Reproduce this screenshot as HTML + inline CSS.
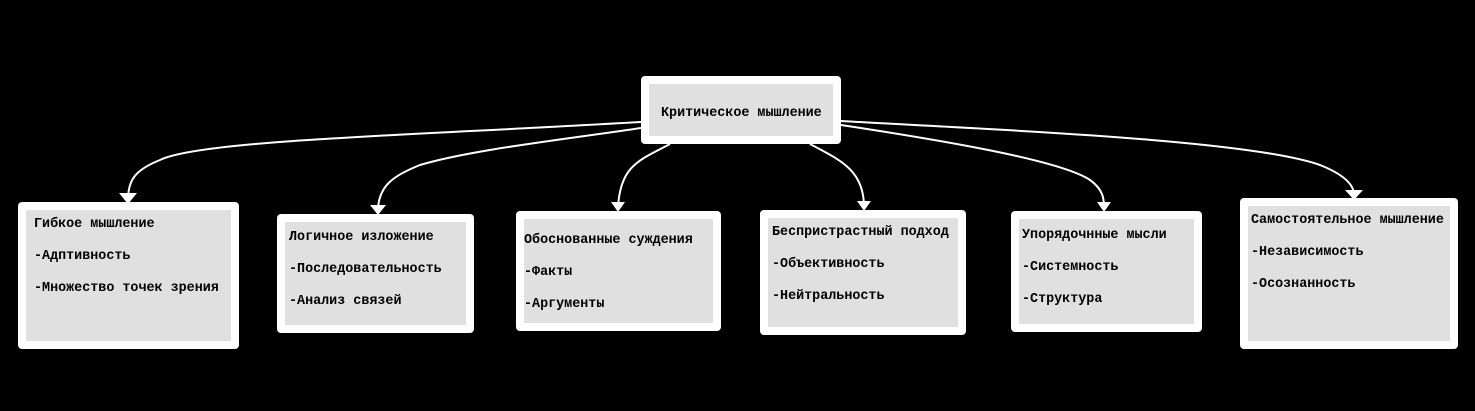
<!DOCTYPE html>
<html><head><meta charset="utf-8"><style>
html,body{margin:0;padding:0;background:#000;width:1475px;height:411px;overflow:hidden}
text{font-family:"Liberation Mono","DejaVu Sans Mono",monospace;font-weight:bold;font-size:13.4px;fill:#000}
</style></head><body>
<svg width="1475" height="411" xmlns="http://www.w3.org/2000/svg">
<g fill="none" stroke="#fff" stroke-width="2">
<path d="M641,122 C420,135 200,140 160,160 C135,170 128,180 128,200"/>
<path d="M641,128 C560,140 470,150 420,165 C395,175 378,185 378,211"/>
<path d="M670,144 C640,160 620,165 618,208"/>
<path d="M810,144 C840,160 864,170 864,207"/>
<path d="M841,125 C940,140 1060,160 1090,180 C1104,190 1104,200 1104,208"/>
<path d="M841,121 C1000,130 1250,140 1320,165 C1345,175 1354,185 1354,195"/>
</g>
<g fill="#fff">
<path d="M119,193 L137,193 L128,204 Z"/>
<path d="M370,205 L386,205 L378,215 Z"/>
<path d="M611,202 L625,202 L618,212 Z"/>
<path d="M857,201 L871,201 L864,211 Z"/>
<path d="M1097,202 L1111,202 L1104,212 Z"/>
<path d="M1345,190 L1363,190 L1354,200 Z"/>
</g>
<g fill="#fff">
<rect x="641" y="76" width="200" height="68" rx="4"/>
<rect x="18" y="202" width="221" height="147" rx="4"/>
<rect x="277" y="214" width="197" height="119" rx="4"/>
<rect x="516" y="211" width="205" height="120" rx="4"/>
<rect x="760" y="210" width="206" height="125" rx="4"/>
<rect x="1011" y="211" width="191" height="121" rx="4"/>
<rect x="1240" y="198" width="218" height="151" rx="4"/>
</g>
<g fill="#e0e0e0">
<rect x="649" y="84" width="184" height="52"/>
<rect x="26" y="210" width="205" height="131"/>
<rect x="285" y="222" width="181" height="103"/>
<rect x="524" y="219" width="189" height="104"/>
<rect x="768" y="218" width="190" height="109"/>
<rect x="1019" y="219" width="175" height="105"/>
<rect x="1248" y="206" width="202" height="135"/>
</g>
<text x="661" y="116">Критическое мышление</text>
<text x="34" y="227">Гибкое мышление</text><text x="34" y="259">-Адптивность</text><text x="34" y="291">-Множество точек зрения</text>
<text x="289" y="240">Логичное изложение</text><text x="289" y="272">-Последовательность</text><text x="289" y="304">-Анализ связей</text>
<text x="524" y="243">Обоснованные суждения</text><text x="524" y="275">-Факты</text><text x="524" y="307">-Аргументы</text>
<text x="772" y="235">Беспристрастный подход</text><text x="772" y="267">-Объективность</text><text x="772" y="299">-Нейтральность</text>
<text x="1022" y="238">Упорядочнные мысли</text><text x="1022" y="270">-Системность</text><text x="1022" y="302">-Структура</text>
<text x="1251" y="223">Самостоятельное мышление</text><text x="1251" y="255">-Независимость</text><text x="1251" y="287">-Осознанность</text>
</svg>
</body></html>
